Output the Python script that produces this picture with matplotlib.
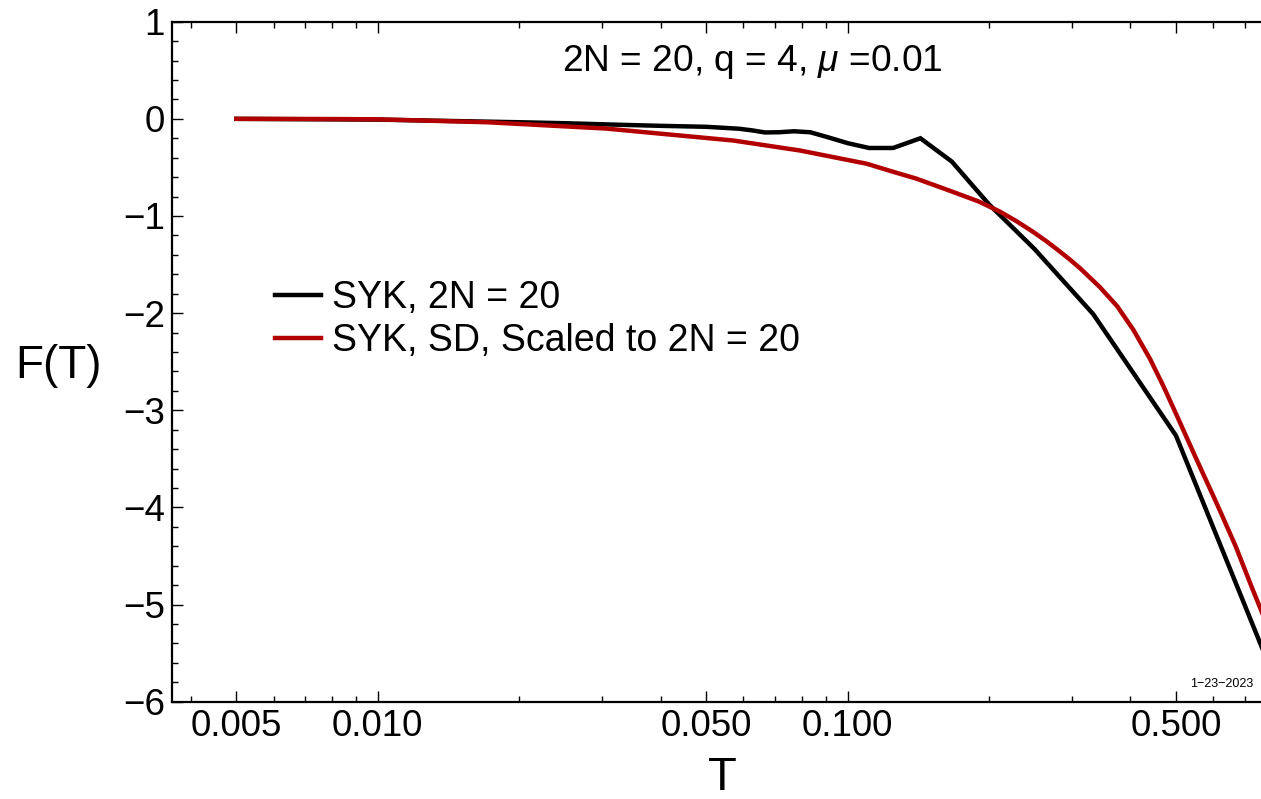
import matplotlib
matplotlib.use("Agg")
import matplotlib.pyplot as plt
from matplotlib.ticker import FixedLocator, NullFormatter, FixedFormatter

plt.rcParams['font.family'] = ['Liberation Sans', 'DejaVu Sans']
plt.rcParams['mathtext.fontset'] = 'custom'
plt.rcParams['mathtext.rm'] = 'Liberation Sans'
plt.rcParams['mathtext.it'] = 'Liberation Sans:italic'

# ---- data ----
T_syk = [0.005, 0.01, 0.02, 0.025, 0.0333, 0.04, 0.05, 0.0526, 0.0556, 0.0588,
         0.0625, 0.0667, 0.0714, 0.0769, 0.0833, 0.0909, 0.1, 0.1111, 0.125,
         0.1429, 0.1667, 0.2, 0.25, 0.3333, 0.5, 1.0]
F_syk = [0.0, -0.008, -0.035, -0.045, -0.062, -0.072, -0.082, -0.088, -0.095, -0.102,
         -0.118, -0.14, -0.138, -0.128, -0.138, -0.19, -0.25, -0.30, -0.30,
         -0.20, -0.44, -0.88, -1.34, -2.01, -3.26, -6.85]

T_sd = [0.005, 0.008, 0.01, 0.0171, 0.0306, 0.0571, 0.0792, 0.1098, 0.125, 0.140,
        0.165, 0.19, 0.211, 0.23, 0.2485, 0.265, 0.2786, 0.295, 0.3129, 0.3445,
        0.375, 0.4056, 0.4402, 0.47, 0.5017, 0.55, 0.612, 0.67, 0.729, 0.8]
F_sd = [0.0, -0.002, -0.005, -0.035, -0.10, -0.223, -0.326, -0.462, -0.545, -0.615,
        -0.74, -0.85, -0.955, -1.06, -1.165, -1.26, -1.34, -1.435, -1.54, -1.733,
        -1.93, -2.17, -2.47, -2.75, -3.05, -3.48, -3.97, -4.40, -4.85, -5.33]

x_major = [0.005, 0.01, 0.05, 0.1, 0.5]
x_major_labels = ["0.005", "0.010", "0.050", "0.100", "0.500"]
x_minor = [0.004, 0.006, 0.007, 0.008, 0.009, 0.02, 0.03, 0.04, 0.06, 0.07, 0.08,
           0.09, 0.2, 0.3, 0.4, 0.6, 0.7]
y_major = [-6, -5, -4, -3, -2, -1, 0, 1]

label_syk = "SYK, 2N = 20"
label_sd = "SYK, SD, Scaled to 2N = 20"
title_text = r"2N = 20, q = 4, $\mu$ =0.01"

W, H = 1261, 799
fig = plt.figure(figsize=(W / 100, H / 100), dpi=100)
ax = fig.add_axes([172 / W, 1 - 701.7 / H, (W - 172) / W, (701.7 - 21.7) / H])

ax.plot(T_syk, F_syk, color='black', lw=3.2, label=label_syk, solid_joinstyle='miter')
ax.plot(T_sd, F_sd, color='#b20000', lw=3.2, label=label_sd)

ax.set_xscale('log')
ax.set_xlim(0.003648, 0.7586)
ax.set_ylim(-6, 1)

ax.xaxis.set_major_locator(FixedLocator(x_major))
ax.xaxis.set_major_formatter(FixedFormatter(x_major_labels))
ax.xaxis.set_minor_locator(FixedLocator(x_minor))
ax.xaxis.set_minor_formatter(NullFormatter())
ax.yaxis.set_major_locator(FixedLocator(y_major))
ax.yaxis.set_minor_locator(FixedLocator([v / 5 for v in range(-30, 6) if v % 5 != 0]))
ax.set_yticklabels([("\u2212" + str(-v)) if v < 0 else str(v) for v in y_major])

ax.tick_params(which='both', direction='in', top=True, right=False, width=1.0,
               labelsize=26.5, colors='black')
ax.tick_params(axis='x', which='major', length=8, pad=5)
ax.tick_params(axis='x', which='minor', length=4)
ax.tick_params(axis='y', which='major', length=8, pad=5)
ax.tick_params(axis='y', which='minor', length=4)
for s in ['left', 'bottom', 'top']:
    ax.spines[s].set_linewidth(1.6)
ax.spines['right'].set_visible(False)

leg = ax.legend(loc='center left', bbox_to_anchor=(275 / W, 1 - 319.5 / H),
                bbox_transform=fig.transFigure, frameon=False, fontsize=27,
                handlelength=1.22, handletextpad=0.3, borderpad=0, borderaxespad=0,
                labelspacing=0.2)

fig.text(752 / W, 1 - 70.7 / H, title_text, ha='center', va='baseline', fontsize=26.7)
fig.text(15 / W, 1 - 378 / H, "F(T)", ha='left', va='baseline', fontsize=33)
fig.text(722 / W, 1 - 790 / H, "T", ha='center', va='baseline', fontsize=34)
fig.text(1253 / W, 1 - 686.7 / H, "1\u221223\u22122023", ha='right', va='baseline', fontsize=9)

fig.savefig("out.png", dpi=100)
